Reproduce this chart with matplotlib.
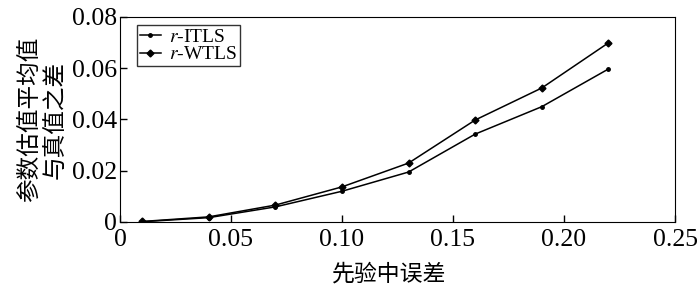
import matplotlib
matplotlib.use('Agg')
from matplotlib import pyplot as plt

# Data.
x_err = [0.01, 0.04, 0.07, 0.10, 0.13, 0.16, 0.19, 0.22]
itls = [0.0001, 0.0017, 0.0059, 0.0120, 0.0195, 0.0343, 0.0450, 0.0597]
wtls = [0.0002, 0.0020, 0.0066, 0.0137, 0.0230, 0.0398, 0.0523, 0.0699]
x_ticks = [0, 0.05, 0.10, 0.15, 0.20, 0.25]
x_tick_labels = ['0', '0.05', '0.10', '0.15', '0.20', '0.25']
y_ticks = [0, 0.02, 0.04, 0.06, 0.08]
y_tick_labels = ['0', '0.02', '0.04', '0.06', '0.08']

serif = ['Liberation Serif', 'DejaVu Serif']
cjk = ['Noto Sans CJK SC', 'DejaVu Sans']
plt.rcParams['mathtext.fontset'] = 'stix'

fig = plt.figure(figsize=(7, 2.87), dpi=100)
ax = fig.add_axes([0.1714, 0.2265, 0.7929, 0.7143])

ax.plot(x_err, itls, '-', color='black', lw=1.1, marker='o', markersize=2.5,
        label='$r$-ITLS')
ax.plot(x_err, wtls, '-', color='black', lw=1.1, marker='D', markersize=3.5,
        label='$r$-WTLS')

ax.set_xlim(0, 0.25)
ax.set_ylim(0, 0.08)
ax.set_xticks(x_ticks)
ax.set_xticklabels(x_tick_labels, family=serif, fontsize=18.5)
ax.set_yticks(y_ticks)
ax.set_yticklabels(y_tick_labels, family=serif, fontsize=18.5)
ax.tick_params(direction='in', length=5, width=1)
ax.tick_params(axis='x', pad=5)
ax.tick_params(axis='y', pad=2)

ax.set_xlabel('先验中误差', family=cjk, fontsize=16.5, fontweight='light',
              labelpad=8, x=0.485)
ax.set_ylabel('参数估值平均值\n与真值之差', family=cjk, fontsize=17,
              fontweight='light', linespacing=1.15, labelpad=4)

leg = ax.legend(loc='upper left', bbox_to_anchor=(0.03, 0.96),
                prop={'family': serif, 'size': 14}, frameon=True, fancybox=False,
                edgecolor='black', handlelength=1.1, handletextpad=0.4,
                borderpad=0.15, labelspacing=0.0, borderaxespad=0)
leg.get_frame().set_linewidth(1.0)

fig.savefig('out.png', dpi=100)
